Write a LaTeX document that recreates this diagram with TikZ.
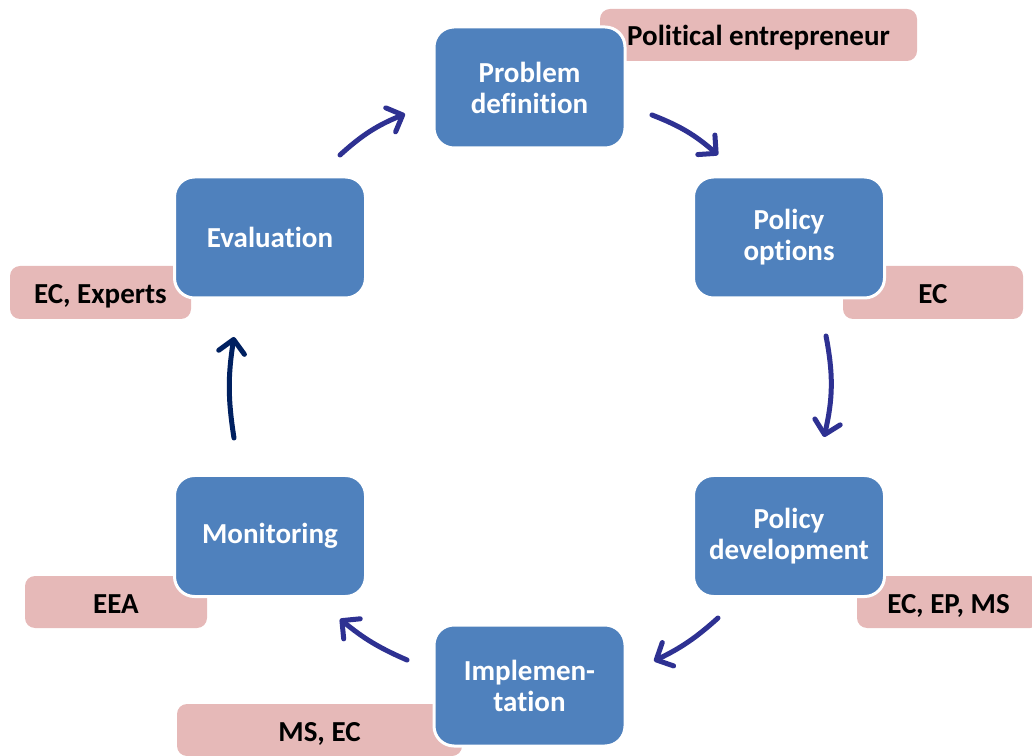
\documentclass[tikz,border=0pt]{standalone}
\usepackage{fontspec}
\setmainfont{Carlito}[Ligatures=NoCommon]
\usetikzlibrary{arrows.meta,positioning}
\definecolor{stageblue}{HTML}{4F81BD}
\definecolor{actorpink}{HTML}{E6B9B8}
\definecolor{arrowblue}{HTML}{2E3192}
\definecolor{arrownavy}{HTML}{002060}
\tikzset{
    stage/.style={rectangle, rounded corners=20pt, fill=stageblue, draw=white,
        line width=3pt, minimum width=191pt, minimum height=121pt, inner sep=0pt,
        text=white, align=center, font=\fontsize{29}{31}\selectfont\bfseries},
    actor/.style={rectangle, rounded corners=10pt, fill=actorpink, minimum height=52pt,
        inner sep=0pt, text height=24pt, text depth=2pt,
        font=\fontsize{29}{31}\selectfont\bfseries},
    flow/.style={arrowblue, line width=5pt, line cap=round,
        -{Straight Barb[length=13pt, width=26pt, round]}}
}
\begin{document}
\begin{tikzpicture}[x=1pt, y=1pt]
    \useasboundingbox (0, 0) rectangle (1032, 755);
    % who takes part
    \node[actor, minimum width=317pt] (pol) at (758.5, 720) {Political entrepreneur};
    \node[actor, minimum width=180pt, minimum height=53pt] (ecopt) at (933, 462.5) {EC};
    \node[actor, minimum width=183pt] (ecepms) at (948.5, 153) {EC, EP, MS};
    \node[actor, minimum width=285pt] (msec) at (319.5, 25) {MS, EC};
    \node[actor, minimum width=182pt] (eea) at (116, 153) {EEA};
    \node[actor, minimum width=181pt, minimum height=53pt] (ecexp) at (100.5, 462.5) {EC, Experts};
    % policy cycle
    \node[stage] (prob) at (529.5, 667.5) {Problem\\definition};
    \node[stage] (opts) at (789, 517.5) {Policy\\options};
    \node[stage] (dev) at (789, 219) {Policy\\development};
    \node[stage] (impl) at (529.5, 69.5) {Implemen-\\tation};
    \node[stage] (mon) at (270, 219) {Monitoring};
    \node[stage] (eval) at (270, 517.5) {Evaluation};
    % arrow ends
    \coordinate (eval-out) at (340, 600);
    \coordinate (prob-in) at (405, 641);
    \coordinate (prob-out) at (652, 640);
    \coordinate (opts-in) at (718, 600);
    \coordinate (opts-out) at (826, 419);
    \coordinate (dev-in) at (824, 318);
    \coordinate (dev-out) at (718, 137);
    \coordinate (impl-in) at (654, 94);
    \coordinate (impl-out) at (407, 95);
    \coordinate (mon-in) at (340, 136);
    \coordinate (mon-out) at (234, 317);
    \coordinate (eval-in) at (234, 418);
    \draw[flow] (eval-out) to[bend left=10] (prob-in);
    \draw[flow] (prob-out) to[bend left=10] (opts-in);
    \draw[flow] (opts-out) to[bend left=12] (dev-in);
    \draw[flow] (dev-out) to[bend left=8] (impl-in);
    \draw[flow] (impl-out) to[bend left=8] (mon-in);
    \draw[flow, arrownavy] (mon-out) to[bend left=9] (eval-in);
\end{tikzpicture}
\end{document}
